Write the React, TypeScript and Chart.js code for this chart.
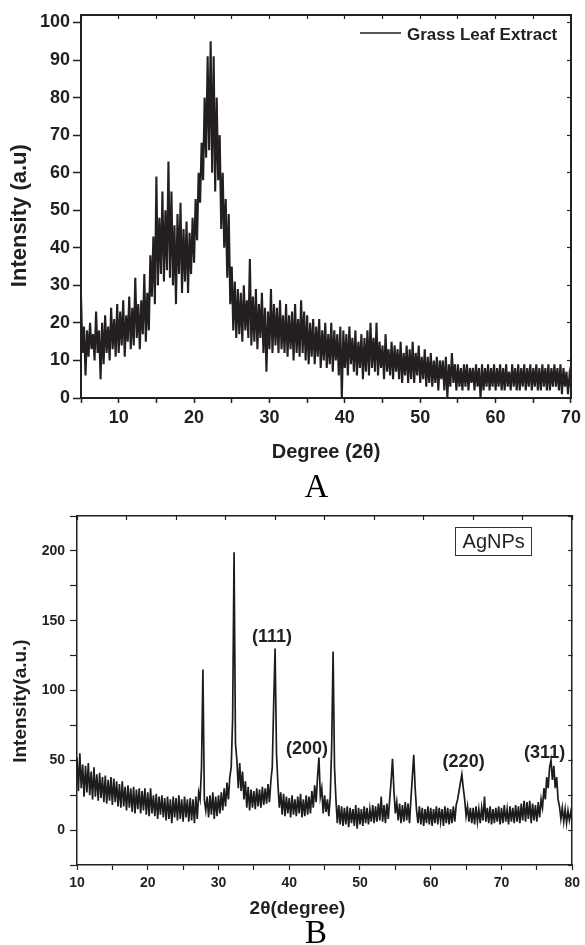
import { useEffect, useRef } from "react";
import { Chart, registerables } from "chart.js";

Chart.register(...registerables);

// ---------- Panel A : Grass Leaf Extract ----------
const A_START = 5;
const A_STEP = 0.2;
const A_LEGEND = "Grass Leaf Extract";
const A_INTENSITY = [
  27, 12, 19, 6, 18,
  11, 20, 13, 17, 10,
  23, 12, 18, 5, 20,
  9, 22, 12, 19, 10,
  24, 13, 21, 11, 25,
  12, 23, 14, 26, 11,
  22, 15, 27, 13, 24,
  14, 32, 16, 25, 13,
  26, 17, 33, 15, 28,
  18, 38, 27, 43, 25,
  59, 30, 48, 33, 55,
  31, 50, 34, 63, 32,
  55, 30, 46, 25, 49,
  33, 52, 28, 45, 31,
  47, 28, 44, 33, 48,
  36, 53, 42, 60, 52,
  68, 58, 80, 64, 91,
  66, 95, 60, 91, 55,
  80, 58, 70, 45, 60,
  40, 53, 32, 49, 25,
  35, 18, 31, 16, 29,
  17, 28, 15, 30, 18,
  26, 16, 37, 14, 27,
  15, 29, 13, 25, 16,
  28, 12, 24, 7, 23,
  13, 29, 12, 25, 14,
  24, 12, 26, 13, 22,
  12, 25, 11, 22, 13,
  23, 10, 25, 12, 21,
  11, 26, 12, 23, 10,
  22, 9, 20, 11, 21,
  9, 19, 11, 21, 8,
  18, 10, 20, 8, 17,
  9, 20, 7, 18, 10,
  17, 6, 19, 0, 18,
  8, 17, 6, 19, 9,
  16, 7, 18, 6, 15,
  8, 17, 5, 16, 7,
  18, 6, 20, 8, 16,
  7, 20, 6, 15, 8,
  14, 5, 17, 7, 13,
  6, 15, 5, 14, 7,
  13, 5, 15, 4, 12,
  6, 14, 4, 13, 5,
  15, 4, 12, 6, 14,
  4, 11, 5, 13, 3,
  11, 4, 12, 3, 10,
  4, 11, 2, 10, 5,
  10, 2, 11, 0, 9,
  3, 12, 4, 9, 2,
  9, 3, 8, 2, 9,
  3, 9, 2, 8, 4,
  8, 2, 9, 3, 8,
  0, 9, 2, 8, 3,
  9, 2, 8, 3, 9,
  2, 8, 3, 9, 2,
  8, 2, 9, 3, 7,
  2, 9, 3, 8, 2,
  9, 2, 8, 3, 9,
  2, 8, 3, 9, 2,
  8, 3, 9, 2, 8,
  2, 9, 3, 8, 2,
  9, 2, 8, 3, 9,
  3, 8, 2, 9, 1,
  8, 3, 7, 1, 6,
  3,
];
const A_X_MIN = 5;
const A_X_MAX = 70;
const A_Y_MIN = 0;
const A_Y_MAX = 102;

// ---------- Panel B : AgNPs ----------
const B_START = 10;
const B_STEP = 0.2;
const B_INTENSITY = [
  52, 28, 55, 30, 47,
  24, 46, 27, 48, 25,
  42, 22, 45, 24, 40,
  21, 41, 23, 38, 20,
  39, 19, 36, 21, 38,
  18, 37, 20, 35, 17,
  33, 16, 35, 17, 31,
  14, 32, 16, 30, 13,
  31, 12, 29, 15, 30,
  12, 28, 14, 30, 11,
  27, 10, 30, 12, 25,
  10, 26, 8, 24, 11,
  25, 9, 23, 7, 24,
  8, 22, 5, 24, 9,
  23, 7, 25, 8, 22,
  6, 24, 9, 22, 6,
  23, 7, 22, 5, 24,
  8, 27, 22, 45, 115,
  22, 14, 24, 9, 25,
  11, 27, 8, 24, 10,
  25, 12, 27, 14, 30,
  17, 34, 22, 38, 45,
  80, 199, 62, 50, 30,
  48, 28, 42, 22, 35,
  16, 31, 14, 29, 16,
  28, 15, 30, 17, 29,
  16, 31, 18, 30, 19,
  33, 20, 35, 45, 90,
  130, 55, 33, 16, 27,
  11, 26, 10, 24, 12,
  23, 9, 25, 11, 22,
  10, 24, 12, 26, 9,
  22, 10, 25, 11, 24,
  12, 28, 16, 32, 20,
  38, 52, 24, 30, 12,
  25, 13, 22, 10, 24,
  60, 128, 45, 22, 5,
  18, 4, 17, 3, 16,
  4, 17, 2, 16, 5,
  15, 3, 18, 1, 16,
  4, 15, 3, 17, 5,
  16, 4, 15, 6, 18,
  5, 17, 6, 19, 7,
  24, 6, 18, 5, 19,
  8, 22, 35, 51, 28,
  12, 20, 7, 19, 5,
  18, 6, 20, 7, 19,
  5, 22, 38, 54, 30,
  14, 5, 17, 4, 16,
  3, 15, 5, 17, 4,
  16, 3, 15, 5, 17,
  4, 16, 6, 15, 3,
  17, 5, 16, 4, 15,
  5, 17, 6, 18, 22,
  28, 34, 40, 30, 22,
  10, 17, 6, 16, 5,
  16, 4, 17, 6, 15,
  5, 16, 7, 24, 6,
  16, 5, 17, 4, 15,
  5, 16, 6, 17, 4,
  16, 5, 18, 6, 15,
  4, 17, 6, 16, 5,
  18, 6, 17, 5, 19,
  7, 21, 6, 20, 8,
  21, 5, 19, 7, 18,
  6, 20, 9, 22, 16,
  30, 22, 38, 30, 45,
  50, 36, 46, 30, 38,
  22, 17, 8, 16, 6,
  15, 5, 14, 7, 13,
  6,
];
const B_X_MIN = 10;
const B_X_MAX = 80;
const B_Y_MIN = -25;
const B_Y_MAX = 225;
const B_PEAK_LABELS = ["(111)", "(200)", "(220)", "(311)"];
const B_PEAK_LABEL_X = [37.55, 42.5, 64.65, 76.1];
const B_PEAK_LABEL_Y = [138, 58, 49, 55];
const B_LEGEND = "AgNPs";

const INK = "#231f20";
const SANS = '"Liberation Sans", Arial, Helvetica, sans-serif';
const SERIF = '"Liberation Serif", "Times New Roman", serif';

function toPoints(values: number[], start: number, step: number) {
  return values.map((y, i) => ({ x: Math.round((start + i * step) * 100) / 100, y }));
}

const panelAPlugin = {
  id: "panelA",
  afterDraw(chart: any) {
    const ctx = chart.ctx;
    ctx.save();
    ctx.strokeStyle = INK;
    ctx.lineWidth = 1.5;
    ctx.beginPath();
    ctx.moveTo(360, 33);
    ctx.lineTo(401, 33);
    ctx.stroke();
    ctx.fillStyle = INK;
    ctx.font = `bold 17px ${SANS}`;
    ctx.textAlign = "left";
    ctx.textBaseline = "alphabetic";
    ctx.fillText(A_LEGEND, 407, 39.5);
    ctx.fillStyle = "#000";
    ctx.font = `33px ${SERIF}`;
    ctx.textAlign = "center";
    ctx.fillText("A", 316.5, 497);
    ctx.restore();
  },
};

const panelBPlugin = {
  id: "panelB",
  afterDraw(chart: any) {
    const ctx = chart.ctx;
    const xs = chart.scales.x;
    const ys = chart.scales.y;
    ctx.save();
    ctx.strokeStyle = "#333";
    ctx.lineWidth = 1;
    ctx.strokeRect(455.5, 27.5, 76, 28);
    ctx.fillStyle = INK;
    ctx.font = `20px ${SANS}`;
    ctx.textAlign = "center";
    ctx.textBaseline = "alphabetic";
    ctx.fillText(B_LEGEND, 493.7, 48);
    ctx.font = `bold 18px ${SANS}`;
    ctx.textBaseline = "middle";
    B_PEAK_LABELS.forEach((t, i) => {
      ctx.fillText(t, xs.getPixelForValue(B_PEAK_LABEL_X[i]), ys.getPixelForValue(B_PEAK_LABEL_Y[i]));
    });
    ctx.textBaseline = "alphabetic";
    ctx.font = `bold 19px ${SANS}`;
    ctx.fillText("2θ(degree)", 297.5, 414);
    ctx.fillStyle = "#000";
    ctx.font = `33px ${SERIF}`;
    ctx.fillText("B", 316, 443);
    ctx.restore();
  },
};

function frameAxis(
  position: string,
  min: number,
  max: number,
  step: number,
  width: number,
  inward: number
) {
  const horizontal = position === "top";
  return {
    type: "linear",
    position,
    min,
    max,
    ticks: { display: false, stepSize: step, includeBounds: false },
    grid: {
      display: true,
      drawOnChartArea: false,
      drawTicks: true,
      tickLength: -inward,
      color: INK,
      tickWidth: 1.2,
    },
    border: { display: true, color: INK, width },
    afterFit: (s: any) => {
      if (horizontal) s.height = 0;
      else s.width = 0;
    },
  };
}

export default function App() {
  const refA = useRef<HTMLCanvasElement>(null);
  const refB = useRef<HTMLCanvasElement>(null);

  useEffect(() => {
    const chartA = new Chart(refA.current as HTMLCanvasElement, {
      type: "line",
      data: {
        datasets: [
          {
            label: A_LEGEND,
            data: toPoints(A_INTENSITY, A_START, A_STEP),
            borderColor: INK,
            borderWidth: 2.1,
            pointRadius: 0,
            tension: 0,
            fill: false,
          },
        ],
      },
      options: {
        animation: false,
        responsive: false,
        maintainAspectRatio: false,
        events: [],
        layout: { padding: { left: 0, right: 12, top: 15, bottom: 0 } },
        plugins: { legend: { display: false }, tooltip: { enabled: false } },
        scales: {
          x: {
            type: "linear",
            position: "bottom",
            min: A_X_MIN,
            max: A_X_MAX,
            ticks: {
              stepSize: 5,
              includeBounds: false,
              autoSkip: false,
              maxRotation: 0,
              padding: 4,
              color: INK,
              font: { family: SANS, size: 18, weight: "bold" },
              callback: (v: any) => (Number(v) % 10 === 0 ? String(v) : ""),
            },
            grid: { drawOnChartArea: false, drawTicks: true, tickLength: 5, color: INK, tickWidth: 1.5 },
            border: { display: true, color: INK, width: 2 },
            title: {
              display: true,
              text: "Degree (2θ)",
              color: INK,
              font: { family: SANS, size: 20, weight: "bold" },
              padding: { top: 0, bottom: 36 },
            },
            afterFit: (s: any) => {
              s.height = 102;
            },
          },
          xTop: frameAxis("top", A_X_MIN, A_X_MAX, 5, 2, 4),
          y: {
            type: "linear",
            position: "left",
            min: A_Y_MIN,
            max: A_Y_MAX,
            ticks: {
              stepSize: 10,
              includeBounds: false,
              padding: 3,
              color: INK,
              font: { family: SANS, size: 18, weight: "bold" },
            },
            grid: { drawOnChartArea: false, drawTicks: true, tickLength: 8, color: INK, tickWidth: 1.5 },
            border: { display: true, color: INK, width: 2 },
            title: {
              display: true,
              text: "Intensity (a.u)   ",
              color: INK,
              font: { family: SANS, size: 22, weight: "bold" },
              padding: { top: 7, bottom: 0 },
            },
            afterFit: (s: any) => {
              s.width = 81;
            },
          },
          yRight: frameAxis("right", A_Y_MIN, A_Y_MAX, 10, 2, 4),
        },
      } as any,
      plugins: [panelAPlugin],
    });

    const chartB = new Chart(refB.current as HTMLCanvasElement, {
      type: "line",
      data: {
        datasets: [
          {
            label: B_LEGEND,
            data: toPoints(B_INTENSITY, B_START, B_STEP),
            borderColor: "#1c1c1c",
            borderWidth: 1.7,
            pointRadius: 0,
            tension: 0,
            fill: false,
          },
        ],
      },
      options: {
        animation: false,
        responsive: false,
        maintainAspectRatio: false,
        events: [],
        layout: { padding: { left: 0, right: 9, top: 16, bottom: 0 } },
        plugins: { legend: { display: false }, tooltip: { enabled: false } },
        scales: {
          x: {
            type: "linear",
            position: "bottom",
            min: B_X_MIN,
            max: B_X_MAX,
            ticks: {
              stepSize: 5,
              includeBounds: false,
              autoSkip: false,
              maxRotation: 0,
              padding: 5,
              color: INK,
              font: { family: SANS, size: 14, weight: "bold" },
              callback: (v: any) => (Number(v) % 10 === 0 ? String(v) : ""),
            },
            grid: { drawOnChartArea: false, drawTicks: true, tickLength: 5, color: INK, tickWidth: 1.2 },
            border: { display: true, color: INK, width: 1.5 },
            afterFit: (s: any) => {
              s.height = 80;
            },
          },
          xTop: frameAxis("top", B_X_MIN, B_X_MAX, 7, 1.5, 4),
          y: {
            type: "linear",
            position: "left",
            min: B_Y_MIN,
            max: B_Y_MAX,
            ticks: {
              stepSize: 25,
              includeBounds: false,
              padding: 5,
              color: INK,
              font: { family: SANS, size: 14, weight: "bold" },
              callback: (v: any) => {
                const n = Number(v);
                return n % 50 === 0 && n >= 0 && n <= 200 ? String(n) : "";
              },
            },
            grid: { drawOnChartArea: false, drawTicks: true, tickLength: 7, color: INK, tickWidth: 1.2 },
            border: { display: true, color: INK, width: 1.5 },
            title: {
              display: true,
              text: "Intensity(a.u.)    ",
              color: INK,
              font: { family: SANS, size: 19, weight: "bold" },
              padding: { top: 9, bottom: 0 },
            },
            afterFit: (s: any) => {
              s.width = 77;
            },
          },
          yRight: frameAxis("right", B_Y_MIN, B_Y_MAX, 25, 1.5, 4),
        },
      } as any,
      plugins: [panelBPlugin],
    });

    return () => {
      chartA.destroy();
      chartB.destroy();
    };
  }, []);

  return (
    <div
      style={{
        position: "absolute",
        left: 0,
        top: 0,
        width: 585,
        height: 945,
        background: "#fff",
        overflow: "hidden",
      }}
    >
      <canvas ref={refA} width={585} height={500} style={{ display: "block", width: 585, height: 500 }} />
      <canvas ref={refB} width={585} height={445} style={{ display: "block", width: 585, height: 445 }} />
    </div>
  );
}
